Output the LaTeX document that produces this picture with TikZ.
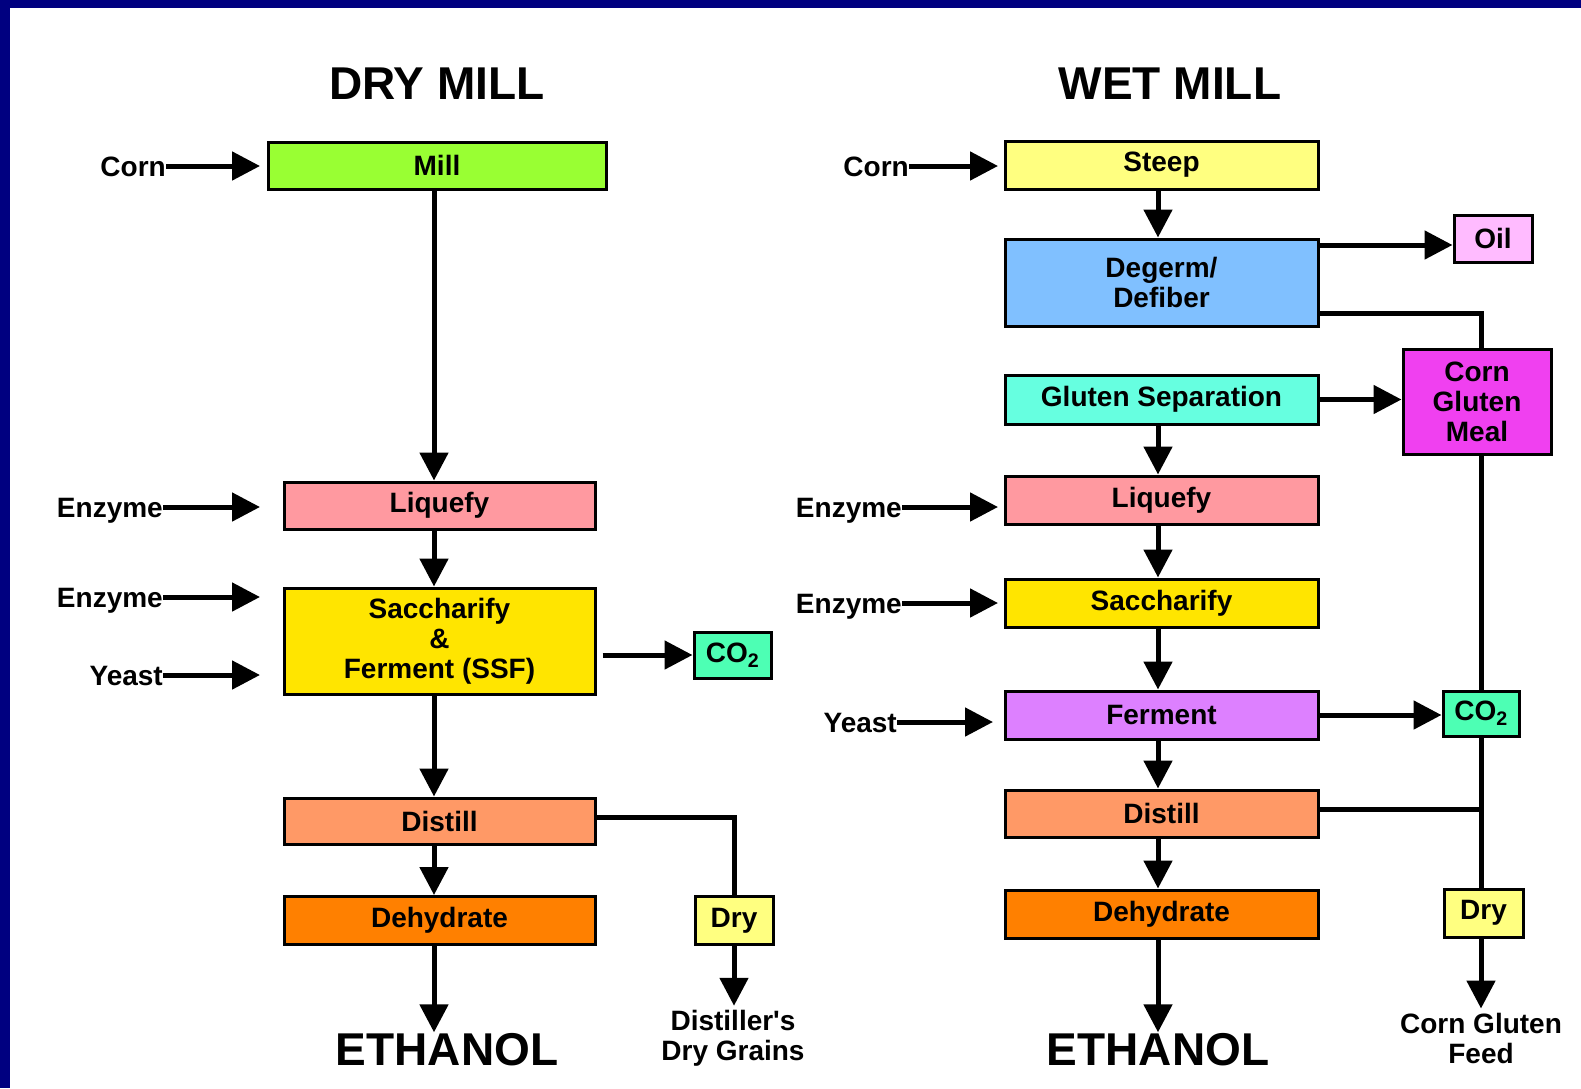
\documentclass[tikz,border=0pt]{standalone}
\usepackage{fontspec}
\setmainfont{Liberation Sans}[Ligatures=TeXOff]
\usetikzlibrary{arrows.meta}
\definecolor{bordernavy}{HTML}{000080}
\definecolor{cMill}{HTML}{99FF33}
\definecolor{cLiq}{HTML}{FF99A0}
\definecolor{cSacc}{HTML}{FFE500}
\definecolor{cCO}{HTML}{4DFFB4}
\definecolor{cDist}{HTML}{FF9966}
\definecolor{cDehyd}{HTML}{FF8000}
\definecolor{cDry}{HTML}{FFFF80}
\definecolor{cDegerm}{HTML}{80C0FF}
\definecolor{cOil}{HTML}{FFBBFF}
\definecolor{cGsep}{HTML}{66FFE0}
\definecolor{cCgm}{HTML}{F040F0}
\definecolor{cFerm}{HTML}{DD80FF}
\begin{document}
\begin{tikzpicture}[x=1pt,y=-1pt,
  box/.style={draw=black,line width=3pt,inner sep=0pt,align=center,
    font=\fontsize{28}{30}\selectfont\bfseries},
  conn/.style={line width=5pt},
  arr/.style={conn,-{Triangle[length=28pt,width=28pt]}},
  lbl/.style={font=\fontsize{28}{30}\selectfont\bfseries,inner sep=0pt,
    text height=20pt,text depth=0pt},
  multi/.style={font=\fontsize{28}{30}\selectfont\bfseries,inner sep=0pt,align=center},
  ttl/.style={font=\fontsize{46}{48}\selectfont\bfseries,inner sep=0pt,
    text height=33pt,text depth=0pt}]
\fill[bordernavy] (0,0) rectangle (1581,1088);
\fill[white] (10,8) rectangle (1581,1088);

% column coordinates
\coordinate (dcol) at (434,0);
\coordinate (wcol) at (1158,0);
\coordinate (vcol) at (1481,0);
\coordinate (y245) at (0,245);
\coordinate (y313) at (0,313);
\coordinate (y809) at (0,809);
\coordinate (y817) at (0,817);

% ---------------- DRY MILL ----------------
\node[ttl] (t1) at (437,83) {DRY MILL};
\node[box,fill=cMill,minimum width=338pt,minimum height=47pt] (mill) at (437,165.5) {Mill};
\node[box,fill=cLiq,minimum width=311pt,minimum height=47pt] (liq) at (439.5,505.5) {Liquefy};
\node[box,fill=cSacc,minimum width=311pt,minimum height=106pt] (ssf) at (439.5,641) {Saccharify\\\&\\Ferment (SSF)};
\node[box,fill=cCO,minimum width=77pt,minimum height=46pt] (co2d) at (732.5,655) {CO\textsubscript{2}};
\node[box,fill=cDist,minimum width=311pt,minimum height=46pt] (distd) at (439.5,821) {Distill};
\node[box,fill=cDehyd,minimum width=311pt,minimum height=48pt] (dehd) at (439.5,920.5) {Dehydrate};
\node[box,fill=cDry,minimum width=78pt,minimum height=48pt] (dryd) at (734,920.5) {Dry};
\node[ttl] (eth1) at (447,1049) {ETHANOL};
\node[multi] (ddg) at (733,1038) {Distiller's\\Dry Grains};

\node[lbl,anchor=east] (corn1) at (166,166) {Corn};
\coordinate (corn1e) at (260,166);
\node[lbl,anchor=east] (enz1) at (163,507) {Enzyme};
\coordinate (enz1e) at (260,507);
\node[lbl,anchor=east] (enz2) at (163,597) {Enzyme};
\coordinate (enz2e) at (260,597);
\node[lbl,anchor=east] (yeast1) at (163,675) {Yeast};
\coordinate (yeast1e) at (260,675);

\draw[arr] (corn1.east) -- (corn1e);
\draw[arr] (enz1.east) -- (enz1e);
\draw[arr] (enz2.east) -- (enz2e);
\draw[arr] (yeast1.east) -- (yeast1e);

\draw[arr] (mill.south -| dcol) -- (liq.north -| dcol);
\draw[arr] (liq.south -| dcol) -- (ssf.north -| dcol);
\draw[arr] (ssf.south -| dcol) -- (distd.north -| dcol);
\draw[arr] (distd.south -| dcol) -- (dehd.north -| dcol);
\draw[arr] (dehd.south -| dcol) -- (eth1.north -| dcol);
\draw[arr] ([xshift=6pt]ssf.east |- co2d) -- (co2d.west);
\draw[conn] (distd.east |- y817) -| (dryd.north);
\draw[arr] (dryd.south) -- ([yshift=4pt]ddg.north -| dryd);

% ---------------- WET MILL ----------------
\node[ttl] (t2) at (1170,83) {WET MILL};
\node[box,fill=cDry,minimum width=313pt,minimum height=48pt] (steep) at (1161.5,165) {Steep};
\node[box,fill=cDegerm,minimum width=313pt,minimum height=87pt] (degerm) at (1161.5,282.5) {Degerm/\\Defiber};
\node[box,fill=cOil,minimum width=78pt,minimum height=47pt] (oil) at (1493,238.5) {Oil};
\node[box,fill=cGsep,minimum width=313pt,minimum height=49pt] (gsep) at (1161.5,399.5) {Gluten Separation};
\node[box,fill=cCgm,minimum width=148pt,minimum height=105pt] (cgm) at (1477,401.5) {Corn\\Gluten\\Meal};
\node[box,fill=cLiq,minimum width=313pt,minimum height=48pt] (liqw) at (1161.5,500) {Liquefy};
\node[box,fill=cSacc,minimum width=313pt,minimum height=48pt] (saccw) at (1161.5,603) {Saccharify};
\node[box,fill=cFerm,minimum width=313pt,minimum height=48pt] (ferm) at (1161.5,715) {Ferment};
\node[box,fill=cCO,minimum width=76pt,minimum height=45pt] (co2w) at (1481,713.5) {CO\textsubscript{2}};
\node[box,fill=cDist,minimum width=313pt,minimum height=47pt] (distw) at (1161.5,813.5) {Distill};
\node[box,fill=cDehyd,minimum width=313pt,minimum height=48pt] (dehw) at (1161.5,914) {Dehydrate};
\node[box,fill=cDry,minimum width=79pt,minimum height=48pt] (dryw) at (1483.5,913) {Dry};
\node[ttl] (eth2) at (1158,1049) {ETHANOL};
\node[multi] (cgf) at (1481,1038) {Corn Gluten\\Feed};

\node[lbl,anchor=east] (corn2) at (909,166) {Corn};
\coordinate (corn2e) at (998,166);
\node[lbl,anchor=east] (enz3) at (902,507) {Enzyme};
\coordinate (enz3e) at (998,507);
\node[lbl,anchor=east] (enz4) at (902,603) {Enzyme};
\coordinate (enz4e) at (998,603);
\node[lbl,anchor=east] (yeast2) at (897,722) {Yeast};
\coordinate (yeast2e) at (993,722);

\draw[arr] (corn2.east) -- (corn2e);
\draw[arr] (enz3.east) -- (enz3e);
\draw[arr] (enz4.east) -- (enz4e);
\draw[arr] (yeast2.east) -- (yeast2e);

\draw[arr] (steep.south -| wcol) -- (degerm.north -| wcol);
\draw[arr] (gsep.south -| wcol) -- (liqw.north -| wcol);
\draw[arr] (liqw.south -| wcol) -- (saccw.north -| wcol);
\draw[arr] (saccw.south -| wcol) -- (ferm.north -| wcol);
\draw[arr] (ferm.south -| wcol) -- (distw.north -| wcol);
\draw[arr] (distw.south -| wcol) -- (dehw.north -| wcol);
\draw[arr] (dehw.south -| wcol) -- (eth2.north -| wcol);

\draw[arr] (degerm.east |- y245) -- (oil.west |- y245);
\draw[conn] (degerm.east |- y313) -| (cgm.north -| vcol);
\draw[arr] (gsep.east) -- (gsep.east -| cgm.west);
\draw[arr] (ferm.east) -- (ferm.east -| co2w.west);
\draw[conn] (cgm.south -| vcol) -- (co2w.north -| vcol);
\draw[conn] (co2w.south -| vcol) -- (dryw.north -| vcol);
\draw[conn] (distw.east |- y809) -- (vcol |- y809);
\draw[arr] (dryw.south -| vcol) -- ([yshift=4pt]cgf.north -| vcol);
\end{tikzpicture}
\end{document}
